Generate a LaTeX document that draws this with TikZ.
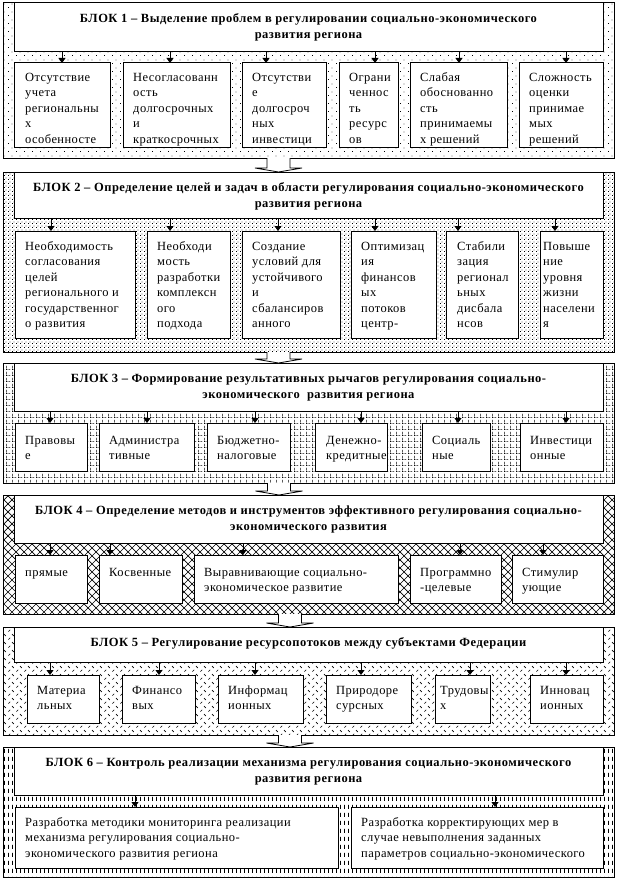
\documentclass[tikz,border=0pt]{standalone}
\usepackage{fontspec}
\setmainfont{Liberation Serif}
\newfontfamily\bodyf[LetterSpace=3.5]{Liberation Serif}
\newfontfamily\titf[LetterSpace=4]{Liberation Serif}
\usetikzlibrary{patterns,arrows.meta,calc}

\pgfdeclarepatternformonly{pdots}{\pgfqpoint{0pt}{0pt}}{\pgfqpoint{8pt}{8pt}}{\pgfqpoint{8pt}{8pt}}{%
  \pgfpathrectangle{\pgfqpoint{0pt}{0pt}}{\pgfqpoint{1pt}{1pt}}%
  \pgfpathrectangle{\pgfqpoint{4pt}{4pt}}{\pgfqpoint{1pt}{1pt}}%
  \pgfusepath{fill}}
\pgfdeclarepatternformonly{pdense}{\pgfqpoint{0pt}{0pt}}{\pgfqpoint{4pt}{4pt}}{\pgfqpoint{4pt}{4pt}}{%
  \pgfpathrectangle{\pgfqpoint{0pt}{0pt}}{\pgfqpoint{1pt}{1pt}}%
  \pgfpathrectangle{\pgfqpoint{2pt}{2pt}}{\pgfqpoint{1pt}{1pt}}%
  \pgfusepath{fill}}
\pgfdeclarepatternformonly{pgrid}{\pgfqpoint{0pt}{0pt}}{\pgfqpoint{6pt}{6pt}}{\pgfqpoint{6pt}{6pt}}{%
  \pgfpathrectangle{\pgfqpoint{0pt}{0pt}}{\pgfqpoint{0.9pt}{0.9pt}}%
  \pgfpathrectangle{\pgfqpoint{2pt}{0pt}}{\pgfqpoint{0.9pt}{0.9pt}}%
  \pgfpathrectangle{\pgfqpoint{4pt}{0pt}}{\pgfqpoint{0.9pt}{0.9pt}}%
  \pgfpathrectangle{\pgfqpoint{0pt}{2pt}}{\pgfqpoint{0.9pt}{0.9pt}}%
  \pgfpathrectangle{\pgfqpoint{0pt}{4pt}}{\pgfqpoint{0.9pt}{0.9pt}}%
  \pgfusepath{fill}}
\pgfdeclarepatternformonly{pcross}{\pgfqpoint{-1pt}{-1pt}}{\pgfqpoint{9pt}{9pt}}{\pgfqpoint{8pt}{8pt}}{%
  \pgfsetlinewidth{0.7pt}%
  \pgfpathmoveto{\pgfqpoint{0pt}{0pt}}\pgfpathlineto{\pgfqpoint{8pt}{8pt}}%
  \pgfpathmoveto{\pgfqpoint{0pt}{8pt}}\pgfpathlineto{\pgfqpoint{8pt}{0pt}}%
  \pgfusepath{stroke}}
\pgfdeclarepatternformonly{pzig}{\pgfqpoint{0pt}{0pt}}{\pgfqpoint{8pt}{8pt}}{\pgfqpoint{8pt}{8pt}}{%
  \pgfsetlinewidth{0.7pt}%
  \pgfpathmoveto{\pgfqpoint{0.5pt}{0.5pt}}\pgfpathlineto{\pgfqpoint{2.5pt}{2.5pt}}%
  \pgfpathmoveto{\pgfqpoint{4.5pt}{6.5pt}}\pgfpathlineto{\pgfqpoint{6.5pt}{4.5pt}}%
  \pgfusepath{stroke}}
\pgfdeclarepatternformonly{pvdash}{\pgfqpoint{0pt}{0pt}}{\pgfqpoint{4pt}{8pt}}{\pgfqpoint{4pt}{8pt}}{%
  \pgfpathrectangle{\pgfqpoint{0pt}{0pt}}{\pgfqpoint{1pt}{4.5pt}}%
  \pgfusepath{fill}}

\newcommand\myblock[6]{% name, top, bottom, title bottom, pattern, title
  \node[outerbox, pattern=#5, minimum width=611pt, minimum height={#3pt-#2pt}] (blk#1) at (3,#2) {};
  \node[titlebox, minimum width=589pt, minimum height={#4pt-#2pt}] (t#1) at (14,#2) {};
  \node[tittxt] at ($(t#1.north)+(0,9.5)$) {\rule{0pt}{9.5pt}#6};}
\newcommand\mysub[8][10]{% [xoff], name, x1, y1, x2, y2, yoff, text
  \node[subbox, minimum width={#5pt-#3pt}, minimum height={#6pt-#4pt}] (#2) at (#3,#4) {};
  \begin{scope}
    \clip ($(#2.north west)+(0.5,0.5)$) rectangle ($(#2.south east)+(-0.5,-0.5)$);
    \node[bodytxt] at ($(#2.north west)+(#1,#7-5.5)$) {\rule{0pt}{9.5pt}#8};
  \end{scope}}
\newcommand\darr[3]{% title, box, x
  \coordinate (tmpa) at (#3,0);
  \draw[arr] (tmpa |- #1.south) -- (tmpa |- #2.north);}
\newcommand\barr[3]{% from, to, centre x
  \coordinate (tmpb) at (#3,0);
  \draw[barrow] ($(tmpb |- #1.south)+(-11.5,0)$) -- ($(tmpb |- #2.north)+(-11.5,-4)$)
    -- ($(tmpb |- #2.north)+(-23.5,-4)$) -- (tmpb |- #2.north)
    -- ($(tmpb |- #2.north)+(23.5,-4)$) -- ($(tmpb |- #2.north)+(11.5,-4)$)
    -- ($(tmpb |- #1.south)+(11.5,0)$);}

\begin{document}
\begin{tikzpicture}[x=1pt,y=-1pt,
  outerbox/.style={draw, line width=1pt, anchor=north west, inner sep=0pt, outer sep=0pt},
  titlebox/.style={draw, fill=white, line width=1pt, anchor=north west, inner sep=0pt, outer sep=0pt},
  subbox/.style={draw, fill=white, line width=1pt, anchor=north west, inner sep=0pt, outer sep=0pt},
  arr/.style={line width=0.8pt, -{Triangle[length=5pt,width=7pt]}},
  barrow/.style={draw, fill=white, line width=0.8pt},
  bodytxt/.style={font=\bodyf\fontsize{12.5}{15.5}\selectfont, align=left, inner sep=0pt, anchor=north west},
  tittxt/.style={font=\titf\bfseries\fontsize{12.5}{16.5}\selectfont, align=center, inner sep=0pt, anchor=north}]
\fill[white] (0,0) rectangle (618,880);
\useasboundingbox (0,0) rectangle (618,880);

% ---------- Block 1
\myblock{1}{3}{158}{52}{pdots}{БЛОК 1 – Выделение проблем в регулировании социально-экономического\\развития региона}
\mysub[11]{b11}{14}{63}{110}{147}{14}{Отсутствие\\учета\\региональны\\х\\особенносте}
\mysub{b12}{123}{63}{230}{147}{14}{Несогласованн\\ость\\долгосрочных\\и\\краткосрочных}
\mysub{b13}{242}{63}{326}{147}{14}{Отсутстви\\е\\долгосроч\\ных\\инвестици}
\mysub{b14}{339}{63}{398}{147}{14}{Ограни\\ченнос\\ть\\ресурс\\ов}
\mysub{b15}{410}{63}{507}{147}{14}{Слабая\\обоснованно\\сть\\принимаемы\\х решений}
\mysub{b16}{519}{63}{603}{147}{14}{Сложность\\оценки\\принимае\\мых\\решений}
\darr{t1}{b11}{62}
\darr{t1}{b12}{170}
\darr{t1}{b13}{266}
\darr{t1}{b14}{375}
\darr{t1}{b15}{459}
\darr{t1}{b16}{566}

% ---------- Block 2
\myblock{2}{172}{352}{218}{pdense}{БЛОК 2 – Определение целей и задач в области регулирования социально-экономического\\развития региона}
\mysub{b21}{15}{231}{135}{338}{15}{Необходимость\\согласования\\целей\\регионального и\\государственног\\о развития}
\mysub{b22}{147}{231}{230}{338}{15}{Необходи\\мость\\разработки\\комплексн\\ого\\подхода}
\mysub{b23}{242}{231}{340}{338}{15}{Создание\\условий для\\устойчивого\\и\\сбалансиров\\анного}
\mysub{b24}{351}{231}{436}{338}{15}{Оптимизац\\ия\\финансов\\ых\\потоков\\центр-}
\mysub[11]{b25}{446}{231}{518}{338}{15}{Стабили\\зация\\регионал\\ьных\\дисбала\\нсов}
\mysub[3]{b26}{540}{231}{603}{338}{15}{Повыше\\ние\\уровня\\жизни\\населени\\я}
\darr{t2}{b21}{51}
\darr{t2}{b22}{170}
\darr{t2}{b23}{278}
\darr{t2}{b24}{375}
\darr{t2}{b25}{458}
\darr{t2}{b26}{555}

% ---------- Block 3
\myblock{3}{363}{483}{411}{pgrid}{БЛОК 3 – Формирование результативных рычагов регулирования социально-\\экономического\ \ развития региона}
\mysub{b31}{15}{423}{87}{471}{17}{Правовы\\е}
\mysub{b32}{99}{423}{194}{471}{17}{Администра\\тивные}
\mysub{b33}{207}{423}{290}{471}{17}{Бюджетно-\\налоговые}
\mysub[11]{b34}{315}{423}{387}{471}{17}{Денежно-\\кредитные}
\mysub{b35}{422}{423}{490}{471}{17}{Социаль\\ные}
\mysub{b36}{520}{423}{603}{471}{17}{Инвестици\\онные}
\darr{t3}{b31}{50}
\darr{t3}{b32}{147}
\darr{t3}{b33}{255}
\darr{t3}{b34}{361}
\darr{t3}{b35}{458}
\darr{t3}{b36}{566}

% ---------- Block 4
\myblock{4}{495}{614}{543}{pcross}{БЛОК 4 – Определение методов и инструментов эффективного регулирования социально-\\экономического развития}
\mysub{b41}{15}{555}{87}{603}{17}{прямые}
\mysub{b42}{99}{555}{182}{603}{17}{Косвенные}
\mysub{b43}{194}{555}{398}{603}{17}{Выравнивающие социально-\\экономическое развитие}
\mysub{b44}{410}{555}{501}{603}{17}{Программно\\-целевые}
\mysub{b45}{512}{555}{603}{603}{17}{Стимулир\\ующие}
\darr{t4}{b41}{50}
\darr{t4}{b42}{110}
\darr{t4}{b43}{243}
\darr{t4}{b44}{460}
\darr{t4}{b45}{543}

% ---------- Block 5
\myblock{5}{627}{735}{662}{pzig}{БЛОК 5 – Регулирование ресурсопотоков между субъектами Федерации}
\mysub{b51}{27}{675}{99}{723}{15}{Материа\\льных}
\mysub{b52}{122}{675}{195}{723}{15}{Финансо\\вых}
\mysub{b53}{218}{675}{303}{723}{15}{Информац\\ионных}
\mysub{b54}{326}{675}{411}{723}{15}{Природоре\\сурсных}
\mysub[5]{b55}{435}{675}{490}{723}{15}{Трудовы\\х}
\mysub{b56}{530}{675}{603}{723}{15}{Инновац\\ионных}
\darr{t5}{b51}{50}
\darr{t5}{b52}{159}
\darr{t5}{b53}{255}
\darr{t5}{b54}{361}
\darr{t5}{b55}{470}
\darr{t5}{b56}{566}

% ---------- Block 6
\myblock{6}{747}{877}{795}{pvdash}{БЛОК 6 – Контроль реализации механизма регулирования социально-экономического\\развития региона}
\mysub{b61}{15}{807}{338}{868}{15}{Разработка методики мониторинга реализации\\механизма регулирования социально-\\экономического развития региона}
\mysub{b62}{351}{807}{603}{868}{15}{Разработка корректирующих мер в\\случае невыполнения заданных\\параметров социально-экономического}
\darr{t6}{b61}{135}
\darr{t6}{b62}{495}

% ---------- arrows between blocks
\barr{blk1}{blk2}{278.5}
\barr{blk2}{blk3}{278.5}
\barr{blk3}{blk4}{279}
\barr{blk4}{blk5}{290}
\barr{blk5}{blk6}{290}
\end{tikzpicture}
\end{document}
